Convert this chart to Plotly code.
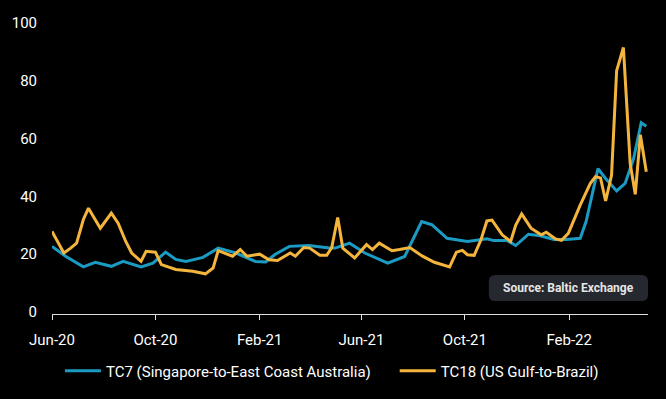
import plotly.graph_objects as go

tc7_dates = ["2020-06-01","2020-06-17","2020-07-08","2020-07-22","2020-08-10","2020-08-24","2020-09-14","2020-09-28",
             "2020-10-13","2020-10-25","2020-11-06","2020-11-26","2020-12-14","2021-01-04","2021-01-27","2021-02-08",
             "2021-02-19","2021-03-08","2021-03-31","2021-04-24","2021-05-01","2021-05-18","2021-06-05","2021-07-02",
             "2021-07-22","2021-08-11","2021-08-23","2021-09-10","2021-10-04","2021-10-27","2021-11-04","2021-11-20",
             "2021-11-30","2021-12-15","2021-12-29","2022-01-14","2022-01-29","2022-02-14","2022-02-21","2022-03-07",
             "2022-03-16","2022-03-29","2022-04-08","2022-04-18","2022-04-27","2022-05-03"]
tc7_values = [23.4,20.0,16.3,17.9,16.5,18.2,16.3,17.6,21.4,18.9,18.2,19.6,22.8,21.1,18.2,18.0,
              20.6,23.4,23.7,22.8,22.8,24.5,21.1,17.6,19.9,32.0,30.9,26.2,25.1,26.0,25.4,25.4,
              23.7,27.6,27.1,25.8,25.8,26.2,32.0,50.3,46.9,42.6,45.2,53.8,66.2,65.0]

tc18_dates = ["2020-06-01","2020-06-15","2020-06-23","2020-06-30","2020-07-08","2020-07-14","2020-07-28","2020-08-10",
              "2020-08-18","2020-08-27","2020-09-03","2020-09-14","2020-09-20","2020-10-01","2020-10-08","2020-10-25",
              "2020-11-14","2020-11-29","2020-12-08","2020-12-14","2020-12-31","2021-01-09","2021-01-17","2021-02-01",
              "2021-02-12","2021-02-22","2021-03-09","2021-03-15","2021-03-25","2021-04-01","2021-04-13","2021-04-21",
              "2021-04-27","2021-05-04","2021-05-10","2021-05-24","2021-06-07","2021-06-14","2021-06-22","2021-07-07",
              "2021-07-16","2021-07-28","2021-08-12","2021-08-26","2021-09-13","2021-09-21","2021-09-28","2021-10-04",
              "2021-10-12","2021-10-20","2021-10-27","2021-11-02","2021-11-14","2021-11-24","2021-11-30","2021-12-07",
              "2021-12-18","2021-12-30","2022-01-05","2022-01-16","2022-01-23","2022-01-31","2022-02-14","2022-02-26",
              "2022-03-04","2022-03-10","2022-03-16","2022-03-23","2022-03-29","2022-04-06","2022-04-14","2022-04-20",
              "2022-04-26","2022-05-03"]
tc18_values = [28.6,21.1,22.8,24.5,32.7,36.6,29.7,34.9,31.4,25.1,21.1,18.2,21.7,21.4,17.1,15.4,
               14.8,13.9,15.9,21.9,20.0,22.3,20.0,20.7,18.8,18.5,21.1,20.0,23.0,22.8,20.3,20.3,
               23.0,33.4,22.8,19.4,24.0,22.3,24.5,21.9,22.3,23.0,20.0,17.9,16.3,21.4,22.0,20.5,
               20.3,25.7,32.2,32.5,27.4,25.1,30.8,34.6,29.7,27.4,28.3,26.0,25.5,27.9,37.7,45.2,
               47.5,47.1,39.1,48.0,84.2,92.2,52.0,41.4,62.0,49.2]

tick_dates = ["2020-06-01","2020-10-01","2021-02-01","2021-06-01","2021-10-01","2022-02-01"]
tick_labels = ["Jun-20","Oct-20","Feb-21","Jun-21","Oct-21","Feb-22"]
y_ticks = [0, 20, 40, 60, 80, 100]

series_names = ["TC7 (Singapore-to-East Coast Australia)", "TC18 (US Gulf-to-Brazil)"]
source_text = "Source: Baltic Exchange"

fig = go.Figure()
fig.add_trace(go.Scatter(x=tc7_dates, y=tc7_values, mode="lines", name=series_names[0],
                         line=dict(color="#1b9ac2", width=3), legend="legend"))
fig.add_trace(go.Scatter(x=tc18_dates, y=tc18_values, mode="lines", name=series_names[1],
                         line=dict(color="#f4b53d", width=3), legend="legend2"))

# rounded source box (paper coords; plot area spans 600 x 289 px)
x0, x1, y0, y1 = 0.733, 1.0, 0.045, 0.135
rx, ry = 0.011, 0.022
path = (f"M {x0+rx},{y0} L {x1-rx},{y0} Q {x1},{y0} {x1},{y0+ry} L {x1},{y1-ry} Q {x1},{y1} {x1-rx},{y1} "
        f"L {x0+rx},{y1} Q {x0},{y1} {x0},{y1-ry} L {x0},{y0+ry} Q {x0},{y0} {x0+rx},{y0} Z")
fig.add_shape(type="path", path=path, xref="paper", yref="paper",
              fillcolor="#25282e", line=dict(width=0), layer="above")
fig.add_annotation(x=(x0+x1)/2, y=(y0+y1)/2, xref="paper", yref="paper", text=source_text,
                   showarrow=False, font=dict(family="Roboto", size=12, color="#e6e6e6", weight="bold"),
                   xanchor="center", yanchor="middle")

legend_common = dict(orientation="h", y=-0.197, yanchor="middle", xanchor="left",
                     font=dict(size=15, color="#ffffff"), itemwidth=36,
                     bgcolor="rgba(0,0,0,0)")

fig.update_layout(
    width=666, height=399,
    paper_bgcolor="#000000", plot_bgcolor="#000000",
    margin=dict(l=48, r=18, t=25, b=85),
    font=dict(family="Roboto", size=15, color="#ffffff"),
    showlegend=True,
    legend=dict(x=0.0133, **legend_common),
    legend2=dict(x=0.575, **legend_common),
    xaxis=dict(type="date", range=["2020-06-01", "2022-05-05"], tickvals=tick_dates, ticktext=tick_labels,
               showgrid=False, zeroline=False, showline=True, linecolor="#e0e0e0", linewidth=1,
               ticks="outside", ticklen=5, tickcolor="#e0e0e0", ticklabelstandoff=7,
               tickfont=dict(size=15, color="#ffffff")),
    yaxis=dict(range=[0, 100], tickvals=y_ticks, showgrid=False, zeroline=False, showline=False,
               ticks="", ticklabelstandoff=14, ticklabelshift=-2, tickfont=dict(size=15, color="#ffffff")),
)

fig.write_html("out.html", config={"displayModeBar": False},
               post_script="document.body.style.margin='0';document.body.style.padding='0';document.body.style.background='#000';")
